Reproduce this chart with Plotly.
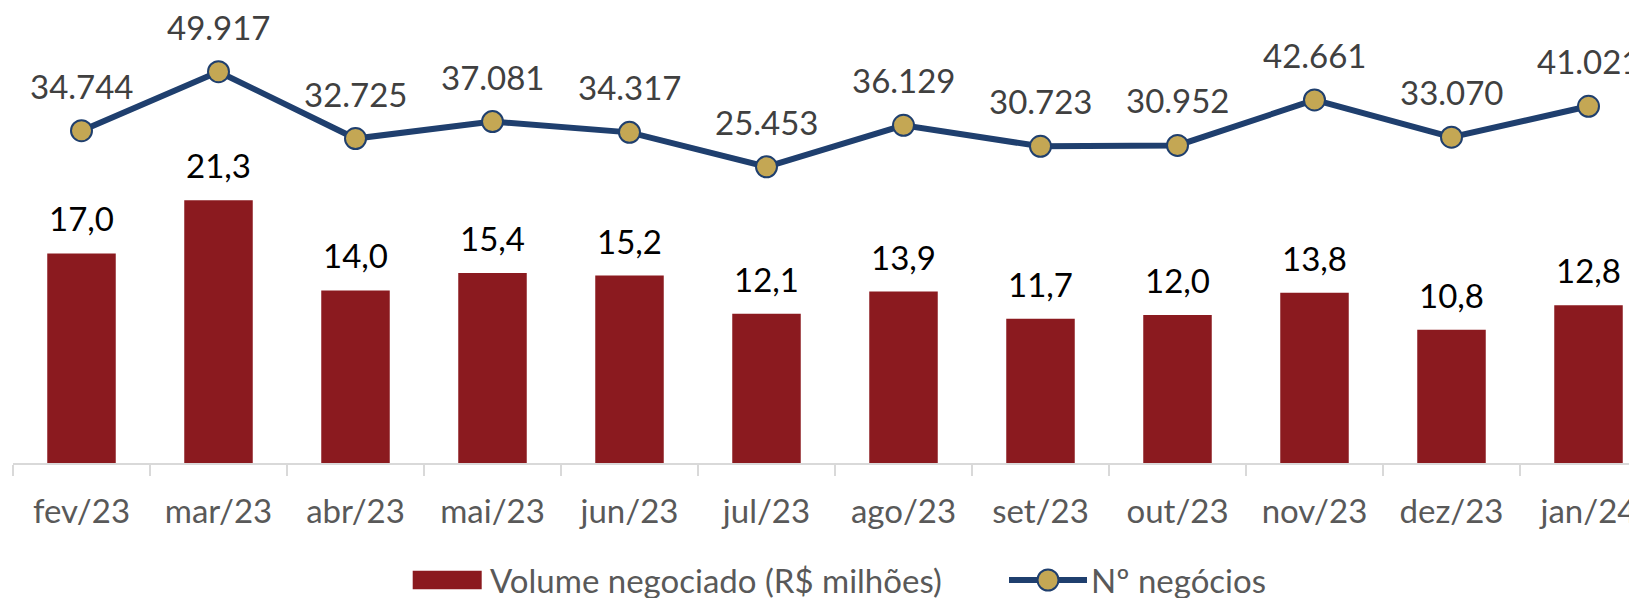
import plotly.graph_objects as go

categories = ["fev/23", "mar/23", "abr/23", "mai/23", "jun/23", "jul/23",
              "ago/23", "set/23", "out/23", "nov/23", "dez/23", "jan/24"]
volume = [17.0, 21.3, 14.0, 15.4, 15.2, 12.1, 13.9, 11.7, 12.0, 13.8, 10.8, 12.8]
negocios = [34744, 49917, 32725, 37081, 34317, 25453, 36129, 30723, 30952, 42661, 33070, 41021]
series_names = ["Volume negociado (R$ milhões)", "Nº negócios"]

BAR_COLOR = "#8B1A1F"
LINE_COLOR = "#1F3F6E"
MARKER_COLOR = "#C4A754"
FONT = "Lato"
FS = 33

# page geometry (the page has an 8px body margin)
OFF = 8
W, H = 1637, 598
ML, MR, MT, MB = 5, 0, 0, 143
PX0 = OFF + ML
PW = W - ML - MR
PY1 = OFF + H - MB
PH = H - MT - MB


def px(x):
    return (x - PX0) / PW


def py(y):
    return (PY1 - y) / PH


def fmt_vol(v):
    return f"{v:.1f}".replace(".", ",")


def fmt_int(v):
    return f"{v:,}".replace(",", ".")


fig = go.Figure()
fig.add_trace(go.Bar(
    x=categories, y=volume, name=series_names[0],
    marker=dict(color=BAR_COLOR, line=dict(width=0)), width=0.5,
))
fig.add_trace(go.Scatter(
    x=categories, y=negocios, name=series_names[1], yaxis="y2",
    mode="lines+markers",
    line=dict(color=LINE_COLOR, width=6),
    marker=dict(size=21, color=MARKER_COLOR, line=dict(color=LINE_COLOR, width=2)),
))

annotations = []
for c, v in zip(categories, volume):
    annotations.append(dict(x=c, y=v, xref="x", yref="y", text=fmt_vol(v),
                            showarrow=False, yshift=35,
                            font=dict(family=FONT, size=FS, color="#000000")))
for c, v in zip(categories, negocios):
    annotations.append(dict(x=c, y=v, xref="x", yref="y2", text=fmt_int(v),
                            showarrow=False, yshift=45,
                            font=dict(family=FONT, size=FS, color="#404040")))

# custom legend
LEG_Y = 580
shapes = [
    dict(type="rect", xref="paper", yref="paper",
         x0=px(412.7), x1=px(481.7), y0=py(589.3), y1=py(570.7),
         fillcolor=BAR_COLOR, line=dict(width=0)),
    dict(type="line", xref="paper", yref="paper",
         x0=px(1009), x1=px(1087), y0=py(LEG_Y), y1=py(LEG_Y),
         line=dict(color=LINE_COLOR, width=6)),
    dict(type="circle", xref="paper", yref="paper",
         x0=px(1037.5), x1=px(1058.5), y0=py(LEG_Y + 10.5), y1=py(LEG_Y - 10.5),
         fillcolor=MARKER_COLOR, line=dict(color=LINE_COLOR, width=2)),
]
annotations.append(dict(x=px(488), y=py(LEG_Y), xref="paper", yref="paper",
                        text=series_names[0], showarrow=False,
                        xanchor="left", yanchor="middle",
                        font=dict(family=FONT, size=FS, color="#595959")))
annotations.append(dict(x=px(1089), y=py(LEG_Y), xref="paper", yref="paper",
                        text=series_names[1], showarrow=False,
                        xanchor="left", yanchor="middle",
                        font=dict(family=FONT, size=FS, color="#595959")))

# value scales (pixels per unit)
BAR_PX_PER_UNIT = 12.33
LINE_PX_PER_UNIT = 0.003888
LINE_REF_VAL, LINE_REF_PY = 34744, 130.7
y2_top = LINE_REF_VAL + (LINE_REF_PY - OFF) / LINE_PX_PER_UNIT
y2_bot = LINE_REF_VAL - (PY1 - LINE_REF_PY) / LINE_PX_PER_UNIT
x_end = -0.5 + PW / 137.0

fig.update_layout(
    width=W, height=H,
    margin=dict(l=ML, r=MR, t=MT, b=MB),
    paper_bgcolor="white", plot_bgcolor="white",
    font=dict(family=FONT, size=FS, color="#595959"),
    showlegend=False,
    xaxis=dict(type="category", range=[-0.5, x_end], showgrid=False,
               showline=True, linecolor="#D9D9D9", linewidth=2,
               ticks="outside", tickson="boundaries", ticklen=11,
               tickcolor="#D9D9D9", tickwidth=2, ticklabelstandoff=18,
               tickfont=dict(family=FONT, size=FS, color="#595959")),
    yaxis=dict(range=[0, PH / BAR_PX_PER_UNIT], visible=False, showgrid=False, zeroline=False),
    yaxis2=dict(range=[y2_bot, y2_top], overlaying="y", side="right",
                visible=False, showgrid=False, zeroline=False),
    annotations=annotations,
    shapes=shapes,
)

fig.write_html("out.html")
